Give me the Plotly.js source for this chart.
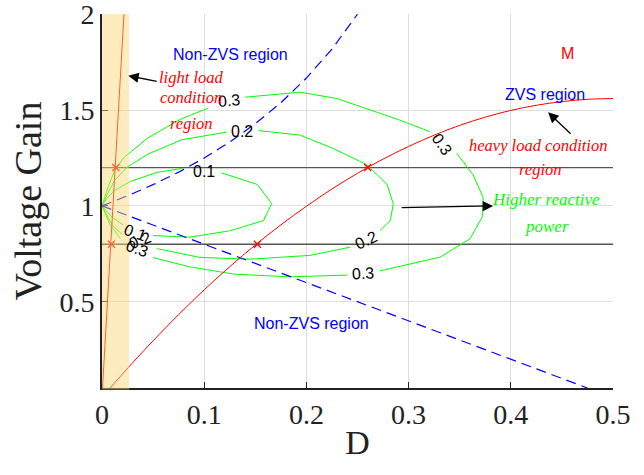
<!DOCTYPE html>
<html>
<head>
<meta charset="utf-8">
<script src="https://cdn.plot.ly/plotly-3.0.1.min.js"></script>
<style>html,body{margin:0;padding:0;background:#fff;}#chart{width:644px;height:475px;}</style>
</head>
<body>
<div id="chart"></div>
<script>
// ---- data ----
var xTickVals = [0, 0.1, 0.2, 0.3, 0.4, 0.5];
var xTickText = ["0", "0.1", "0.2", "0.3", "0.4", "0.5"];
var yTickVals = [0.5, 1, 1.5, 2];
var yTickText = ["0.5", "1", "1.5", "2"];

// light-load boundary (steep red line)
var lightD = [0.0005, 0.006, 0.0095, 0.0135, 0.017, 0.0215];
var lightM = [0.05, 0.56, 0.85, 1.2, 1.53, 2.0];
// heavy-load boundary (red curve)
var heavyD = [0.008, 0.03, 0.05, 0.075, 0.1, 0.125, 0.15, 0.175, 0.2, 0.225, 0.25, 0.275, 0.3, 0.325, 0.35, 0.375, 0.4, 0.425, 0.45, 0.475, 0.5];
var heavyM = [0.05, 0.182, 0.296, 0.433, 0.562, 0.683, 0.796, 0.901, 0.998, 1.088, 1.17, 1.244, 1.31, 1.369, 1.42, 1.463, 1.498, 1.525, 1.544, 1.556, 1.56];
// ZVS boundaries (blue dashed)
var zvsUpD = [0, 0.025, 0.05, 0.075, 0.1, 0.125, 0.15, 0.175, 0.2, 0.225, 0.25];
var zvsUpM = [1, 1.053, 1.111, 1.176, 1.25, 1.333, 1.429, 1.538, 1.667, 1.818, 2];
var zvsLoD = [0, 0.475];
var zvsLoM = [1, 0.05];
// operating limits (gray horizontal lines)
var limitM = [1.2, 0.8];
var limitD = [0, 0.5];
// crossing markers
var lightXD = [0.0135, 0.0092];
var lightXM = [1.2, 0.8];
var heavyXD = [0.26, 0.152];
var heavyXM = [1.2, 0.8];
// reactive power contours
var c01D = [0, 0.005, 0.012, 0.028, 0.054, 0.078, null, 0.117, 0.152, 0.166, 0.158, 0.125, 0.086, 0.05, null, 0.021, 0.01, 0];
var c01M = [1, 1.04, 1.08, 1.128, 1.175, 1.195, null, 1.172, 1.112, 1.012, 0.923, 0.87, 0.837, 0.845, null, 0.9, 0.94, 1];
var c02D = [0, 0.006, 0.012, 0.024, 0.045, 0.078, 0.122, null, 0.153, 0.194, 0.226, 0.259, 0.279, 0.285, 0.282, 0.272, null, 0.243, 0.204, 0.145, 0.096, 0.054, null, 0.02, 0.01, 0];
var c02M = [1, 1.07, 1.13, 1.2, 1.27, 1.345, 1.385, null, 1.393, 1.369, 1.30, 1.215, 1.112, 1.009, 0.923, 0.871, null, 0.785, 0.742, 0.722, 0.731, 0.777, null, 0.85, 0.9, 1];
var c03D = [0, 0.006, 0.012, 0.021, 0.045, 0.078, 0.104, null, 0.14, 0.194, 0.23, 0.259, 0.29, 0.321, null, 0.347, 0.363, 0.373, 0.372, 0.36, 0.331, 0.272, null, 0.24, 0.184, 0.129, 0.086, 0.05, null, 0.018, 0.008, 0];
var c03M = [1, 1.1, 1.18, 1.25, 1.355, 1.455, 1.51, null, 1.567, 1.593, 1.56, 1.507, 1.45, 1.387, null, 1.275, 1.163, 1.043, 0.94, 0.828, 0.733, 0.661, null, 0.639, 0.63, 0.644, 0.682, 0.73, null, 0.83, 0.9, 1];
// contour labels
var labText = ["0.1", "0.2", "0.3", "0.3", "0.2", "0.3", "0.1", "0.2", "0.3"];
var labD = [0.1, 0.137, 0.124, 0.333, 0.258, 0.255, 0.032, 0.037, 0.034];
var labM = [1.18, 1.386, 1.55, 1.322, 0.82, 0.645, 0.86, 0.82, 0.777];
var labAngle = [0, 0, -5, 55, -25, -3, 20, -20, 20];

var RED = "#ff0000", BLUE = "#0000ff", GREEN = "#00ff00";
var SANS = "Liberation Sans, Arial, sans-serif";
var SERIF = "Liberation Serif, Times New Roman, serif";

var traces = [];
limitM.forEach(function (m) {
  traces.push({x: limitD, y: [m, m], mode: "lines", line: {color: "#555555", width: 1.3}, hoverinfo: "skip"});
});
[[c01D, c01M], [c02D, c02M], [c03D, c03M]].forEach(function (c) {
  traces.push({x: c[0], y: c[1], mode: "lines", line: {color: GREEN, width: 1}, connectgaps: false, hoverinfo: "skip"});
});
traces.push({x: zvsUpD, y: zvsUpM, mode: "lines", line: {color: BLUE, width: 1.2, dash: "10px,6px"}});
traces.push({x: zvsLoD, y: zvsLoM, mode: "lines", line: {color: BLUE, width: 1.2, dash: "10px,6px"}});
traces.push({x: lightD, y: lightM, mode: "lines", line: {color: RED, width: 1}});
traces.push({x: heavyD, y: heavyM, mode: "lines", line: {color: RED, width: 1, shape: "spline"}});
traces.push({x: lightXD.concat(heavyXD), y: lightXM.concat(heavyXM), mode: "markers",
  marker: {symbol: "x-thin-open", size: 7, color: RED, line: {color: RED, width: 1.3}}});

var ann = [];
for (var i = 0; i < labText.length; i++) {
  ann.push({x: labD[i], y: labM[i], text: labText[i], showarrow: false, textangle: labAngle[i],
    font: {family: SANS, size: 16, color: "#000"}, xanchor: "center", yanchor: "middle"});
}
function txt(x, y, t, color, fam, size, italic) {
  var s = italic ? "<i>" + t + "</i>" : t;
  ann.push({x: x, y: y, text: s, showarrow: false, xanchor: "center", yanchor: "middle",
    font: {family: fam, size: size, color: color}});
}
txt(0.1256, 1.788, "Non-ZVS region", BLUE, SANS, 16, false);
txt(0.2047, 0.386, "Non-ZVS region", BLUE, SANS, 16, false);
txt(0.455, 1.793, "M", RED, SANS, 16, false);
txt(0.4335, 1.581, "ZVS region", BLUE, SANS, 16, false);
txt(0.4267, 1.317, "heavy load condition", RED, SERIF, 16.5, true);
txt(0.4286, 1.188, "region", RED, SERIF, 16.5, true);
txt(0.4345, 1.033, "Higher reactive", GREEN, SERIF, 17, true);
txt(0.4355, 0.893, "power", GREEN, SERIF, 17, true);
txt(0.0873, 1.669, "light load", RED, SERIF, 16.5, true);
txt(0.0873, 1.565, "condition", RED, SERIF, 16.5, true);
txt(0.0873, 1.43, "region", RED, SERIF, 16.5, true);

function arrow(xt, yt, xs, ys) {
  ann.push({x: xt, y: yt, ax: xs, ay: ys, axref: "x", ayref: "y", xref: "x", yref: "y", text: "",
    showarrow: true, arrowhead: 2, arrowsize: 1.6, arrowwidth: 1.3, arrowcolor: "#000"});
}
arrow(0.0257, 1.679, 0.055, 1.648);
arrow(0.4365, 1.488, 0.46, 1.369);
arrow(0.3827, 1.0, 0.2917, 0.991);

var layout = {
  width: 644, height: 475,
  margin: {l: 102, r: 31, t: 14, b: 87},
  paper_bgcolor: "#fff", plot_bgcolor: "#fff",
  showlegend: false,
  xaxis: {range: [0, 0.5], tickvals: xTickVals, ticktext: xTickText, showgrid: true, gridcolor: "#dddddd", gridwidth: 1,
    zeroline: false, showline: true, linecolor: "#222", linewidth: 2, ticks: "inside", ticklen: 6, tickcolor: "#222",
    ticklabeloverflow: "allow",
    tickfont: {family: SERIF, size: 28, color: "#222"},
    title: {text: "D", font: {family: SERIF, size: 34, color: "#222"}, standoff: 2}},
  yaxis: {range: [0.05, 2.001], tickvals: yTickVals, ticktext: yTickText, showgrid: true, gridcolor: "#dddddd", gridwidth: 1,
    zeroline: false, showline: true, linecolor: "#222", linewidth: 2, ticks: "inside", ticklen: 6, tickcolor: "#222",
    ticklabeloverflow: "allow",
    tickfont: {family: SERIF, size: 28, color: "#222"},
    title: {text: "Voltage Gain", font: {family: SERIF, size: 38, color: "#222"}, standoff: 6}},
  shapes: [{type: "rect", xref: "x", yref: "paper", x0: 0, x1: 0.0265, y0: -0.004, y1: 1, layer: "above",
    fillcolor: "rgb(250,215,110)", opacity: 0.45, line: {width: 0}}],
  annotations: ann
};
Plotly.newPlot("chart", traces, layout, {displayModeBar: false, staticPlot: true});
</script>
</body>
</html>
